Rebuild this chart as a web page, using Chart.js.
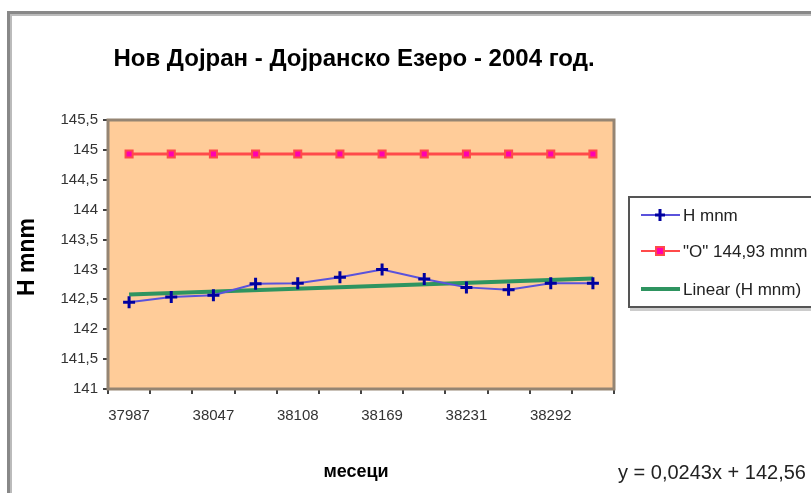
<!DOCTYPE html>
<html>
<head>
<meta charset="utf-8">
<script src="https://cdn.jsdelivr.net/npm/chart.js@4.4.0/dist/chart.umd.min.js"></script>
<style>
  html, body { margin: 0; padding: 0; background: #fff; }
  canvas { display: block; }
</style>
</head>
<body>
<canvas id="grafik" width="811" height="493"></canvas>
<script>
// meseci (Excel serial datumi)
const meseci = ['37987', '38018', '38047', '38078', '38108', '38139', '38169', '38200', '38231', '38261', '38292', '38322'];
const hMnm = [142.45, 142.54, 142.57, 142.76, 142.77, 142.87, 143.0, 142.84, 142.70, 142.66, 142.77, 142.77];
const nulaMnm = [144.93, 144.93, 144.93, 144.93, 144.93, 144.93, 144.93, 144.93, 144.93, 144.93, 144.93, 144.93];
const linearH = [142.58, null, null, null, null, null, null, null, null, null, null, 142.85];
const yMin = 141, yMax = 145.5, yStep = 0.5;

const naslov = 'Нов Дојран - Дојранско Езеро - 2004 год.';
const xNaslov = 'месеци';
const yNaslov = 'H mnm';
const ravenka = 'y = 0,0243x + 142,56';
const legendaTekst = ['H mnm', '"O" 144,93 mnm', 'Linear (H mnm)'];

const FONT = "'Liberation Sans', Arial, sans-serif";

const ramka = {
  id: 'ramka',
  beforeDraw(chart) {
    const c = chart.ctx;
    const a = chart.chartArea;
    c.save();
    c.fillStyle = '#fff';
    c.fillRect(0, 0, chart.width, chart.height);
    // nadvoresna ramka
    c.fillStyle = '#888';
    c.fillRect(7, 11, 3, chart.height);
    c.fillRect(7, 11, chart.width, 3);
    c.fillStyle = '#bbb';
    c.fillRect(10, 14, 2, chart.height);
    c.fillRect(10, 14, chart.width, 2);
    // pozadina na grafikot
    c.fillStyle = '#FFCC99';
    c.fillRect(a.left, a.top, a.right - a.left, a.bottom - a.top);
    c.restore();
  },
  beforeDatasetsDraw(chart) {
    const c = chart.ctx;
    const a = chart.chartArea;
    c.save();
    c.strokeStyle = '#958573';
    c.lineWidth = 3;
    c.strokeRect(a.left, a.top, a.right - a.left, a.bottom - a.top);
    c.restore();
  },
  afterDraw(chart) {
    const c = chart.ctx;
    c.save();
    c.fillStyle = '#000';
    c.textAlign = 'center';
    c.textBaseline = 'middle';
    c.font = 'bold 24px ' + FONT;
    c.fillText(naslov, 354, 59);

    c.font = 'bold 18px ' + FONT;
    c.fillText(xNaslov, 356, 472);

    c.save();
    c.translate(28, 257);
    c.rotate(-Math.PI / 2);
    c.font = 'bold 23px ' + FONT;
    c.fillText(yNaslov, 0, 0);
    c.restore();

    c.textAlign = 'left';
    c.fillStyle = '#222';
    c.font = '20px ' + FONT;
    c.fillText(ravenka, 618, 473);

    // legenda
    c.fillStyle = '#ccc';
    c.fillRect(630, 308, 200, 3);
    c.fillStyle = '#fff';
    c.fillRect(628, 196, 200, 112);
    c.strokeStyle = '#555';
    c.lineWidth = 2;
    c.strokeRect(629, 197, 200, 110);

    const redovi = [215, 251, 289];
    const boi = ['#5a52dc', '#ff4a4a', '#2e9460'];
    redovi.forEach((y, i) => {
      c.strokeStyle = boi[i];
      c.lineWidth = i === 2 ? 4 : 2;
      c.beginPath();
      c.moveTo(641, y);
      c.lineTo(680, y);
      c.stroke();
      if (i === 0) {
        c.strokeStyle = '#0000a0';
        c.lineWidth = 3;
        c.beginPath();
        c.moveTo(660, y - 6); c.lineTo(660, y + 6);
        c.moveTo(655, y); c.lineTo(665, y);
        c.stroke();
      } else if (i === 1) {
        c.fillStyle = '#ff4a4a';
        c.fillRect(655, y - 5, 10, 10);
        c.fillStyle = '#ff00b0';
        c.fillRect(657, y - 3, 6, 6);
      }
      c.fillStyle = '#222';
      c.font = '17px ' + FONT;
      c.fillText(legendaTekst[i], 683, y + 1);
    });
    c.restore();
  }
};

const ctx = document.getElementById('grafik').getContext('2d');
new Chart(ctx, {
  type: 'line',
  data: {
    labels: meseci,
    datasets: [
      {
        label: 'H mnm',
        data: hMnm,
        borderColor: '#5a52dc',
        borderWidth: 2,
        pointStyle: 'cross',
        pointRadius: 6,
        pointBorderWidth: 3,
        pointBorderColor: '#0000a0',
        pointBackgroundColor: '#0000a0',
        tension: 0,
        order: 0
      },
      {
        label: 'Linear (H mnm)',
        data: linearH,
        borderColor: '#2e9460',
        borderWidth: 4,
        pointRadius: 0,
        spanGaps: true,
        tension: 0,
        order: 1
      },
      {
        label: '"O" 144,93 mnm',
        data: nulaMnm,
        borderColor: '#ff4a4a',
        borderWidth: 3,
        pointStyle: 'rect',
        pointRadius: 5,
        pointBorderWidth: 2,
        pointBorderColor: '#ff4a4a',
        pointBackgroundColor: '#ff00b0',
        tension: 0,
        order: 2
      }
    ]
  },
  options: {
    responsive: false,
    animation: false,
    devicePixelRatio: 1,
    layout: { padding: { left: 0, top: 120, right: 197, bottom: 0 } },
    plugins: {
      legend: { display: false },
      tooltip: { enabled: false }
    },
    scales: {
      x: {
        offset: true,
        afterFit: s => { s.height = 104; },
        border: { display: false },
        grid: { offset: true, drawOnChartArea: false, tickLength: 5, color: '#444', lineWidth: 2 },
        ticks: {
          autoSkip: false,
          maxRotation: 0,
          padding: 13,
          color: '#333',
          font: { family: FONT, size: 15 },
          callback: (v, i) => (i % 2 === 0 ? meseci[i] : '')
        }
      },
      y: {
        min: yMin,
        max: yMax,
        afterFit: s => { s.width = 108; },
        border: { display: false },
        grid: { drawOnChartArea: false, tickLength: 5, color: '#444', lineWidth: 2 },
        ticks: {
          stepSize: yStep,
          padding: 5,
          color: '#333',
          font: { family: FONT, size: 15 },
          callback: v => String(v).replace('.', ',')
        }
      }
    }
  },
  plugins: [ramka]
});
</script>
</body>
</html>
